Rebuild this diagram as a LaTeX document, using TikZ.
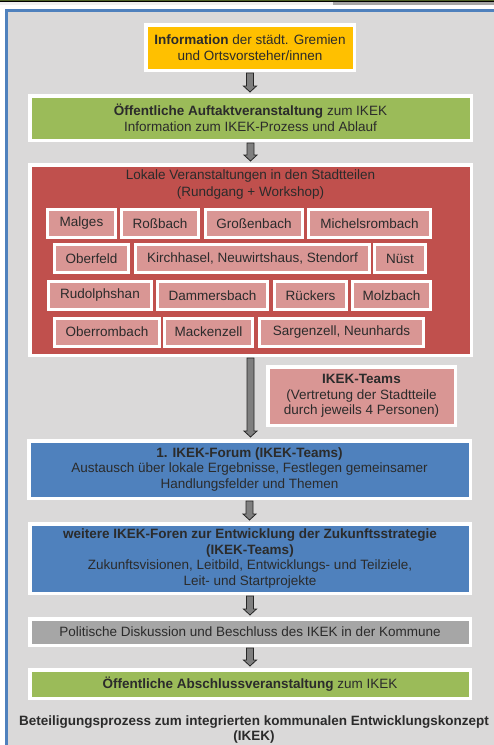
\documentclass[tikz,border=0pt]{standalone}
\usepackage{fontspec}
\setmainfont{Liberation Sans}
\usetikzlibrary{calc,shadows}

\definecolor{panelgrau}{HTML}{DAD9D9}
\definecolor{rahmenblau}{HTML}{4F81BD}
\definecolor{streifen}{HTML}{4F6228}
\definecolor{gelb}{HTML}{FFC000}
\definecolor{gruen}{HTML}{9BBB59}
\definecolor{rot}{HTML}{C0504D}
\definecolor{rosa}{HTML}{D99694}
\definecolor{blau}{HTML}{4F81BD}
\definecolor{grau}{HTML}{A6A6A6}
\definecolor{pfeilgrau}{HTML}{7F7F7F}
\definecolor{schrift}{HTML}{2B2B2B}

\tikzset{
  kasten/.style={draw=white, line width=3.5pt, inner sep=0pt, align=center,
    text=schrift, font=\fontsize{13.5}{15.7}\selectfont,
    drop shadow={shadow xshift=0.8pt, shadow yshift=-1.2pt, fill=black, opacity=0.3}},
  ort/.style={kasten, line width=3pt, fill=rosa, minimum height=28pt},
  pfeil/.style={fill=pfeilgrau, draw=black!85, line width=0.8pt},
  schriftzug/.style={inner sep=0pt, align=center, text=schrift,
    font=\fontsize{13.5}{15.7}\selectfont}
}

% 块状箭头：从 #1 的下边到 #2 的上边
\newcommand{\blockpfeil}[2]{%
  \draw[pfeil] let \p1=(#1.south), \p2=(#2.north) in
    (\x1-3.5pt,\y1-1pt) -- (\x1+3.5pt,\y1-1pt) -- (\x1+3.5pt,\y2+8pt)
    -- (\x1+6.5pt,\y2+8pt) -- (\x1,\y2+2pt) -- (\x1-6.5pt,\y2+8pt)
    -- (\x1-3.5pt,\y2+8pt) -- cycle;}

\begin{document}
\begin{tikzpicture}[x={(1pt,0pt)}, y={(0pt,-1pt)}]

    \useasboundingbox (0,0) rectangle (494,745);

    % 画背景
    \fill[white] (0,0) rectangle (494,745);
    \fill[streifen] (0,0) rectangle (494,1.2);
    \fill[black] (0,1.2) rectangle (494,2);
    \fill[black!6] (0,2) rectangle (333,5);
    \fill[grau] (333,2) rectangle (494,5);
    \draw[rahmenblau, line width=2.5pt, fill=panelgrau] (6.5,10.5) rectangle (510,760);

    % 上面的框
    \node[kasten, fill=gelb, minimum width=208.5pt, minimum height=45.5pt] (info) at (250,47.5)
      {\textbf{Information} der städt. Gremien\\und Ortsvorsteher/innen};
    \node[kasten, fill=gruen, minimum width=441.5pt, minimum height=44.5pt] (auftakt) at (250.5,118)
      {\textbf{Öffentliche Auftaktveranstaltung} zum IKEK\\Information zum IKEK-Prozess und Ablauf};

    % 红色的框
    \node[kasten, fill=rot, minimum width=441.5pt, minimum height=190.5pt] (lokal) at (250.5,260) {};
    \node[schriftzug, font=\fontsize{13.5}{17}\selectfont] (lokaltitel) at (250.5,184.5)
      {Lokale Veranstaltungen in den Stadtteilen\\(Rundgang + Workshop)};

    % 各个城区
    \node[ort, minimum width=68pt] (malges) at (81.5,223.5) {Malges};
    \node[ort, minimum width=77pt] (rossbach) at (160,223.5) {Roßbach};
    \node[ort, minimum width=97pt] (grossenbach) at (254,223.5) {Großenbach};
    \node[ort, minimum width=122pt] (michelsrombach) at (369.5,223.5) {Michelsrombach};
    \node[ort, minimum width=74pt] (oberfeld) at (91.5,258.5) {Oberfeld};
    \node[ort, minimum width=234pt] (kirchhasel) at (252.5,258.5) {Kirchhasel, Neuwirtshaus, Stendorf};
    \node[ort, minimum width=51pt] (nuest) at (400,258.5) {Nüst};
    \node[ort, minimum width=103pt] (rudolphshan) at (100,295.5) {Rudolphshan};
    \node[ort, minimum width=110pt] (dammersbach) at (212.5,295.5) {Dammersbach};
    \node[ort, minimum width=72pt] (rueckers) at (310.5,295.5) {Rückers};
    \node[ort, minimum width=78pt] (molzbach) at (391.5,295.5) {Molzbach};
    \node[ort, minimum width=105pt] (oberrombach) at (107,332) {Oberrombach};
    \node[ort, minimum width=88pt] (mackenzell) at (208.5,332) {Mackenzell};
    \node[ort, minimum width=164pt] (sargenzell) at (341.5,332) {Sargenzell, Neunhards};

    % 下面的框
    \node[kasten, fill=rosa, minimum width=187.5pt, minimum height=58.5pt] (teams) at (361.5,396)
      {\textbf{IKEK-Teams}\\(Vertretung der Stadtteile\\durch jeweils 4 Personen)};
    \node[kasten, fill=blau, minimum width=441.5pt, minimum height=57.5pt] (forum) at (249.5,469.5)
      {\textbf{1. IKEK-Forum (IKEK-Teams)}\\Austausch über lokale Ergebnisse, Festlegen gemeinsamer\\Handlungsfelder und Themen};
    \node[kasten, fill=blau, minimum width=440.5pt, minimum height=69.5pt] (foren) at (250,558.5)
      {\textbf{weitere IKEK-Foren zur Entwicklung der Zukunftsstrategie}\\\textbf{(IKEK-Teams)}\\Zukunftsvisionen, Leitbild, Entwicklungs- und Teilziele,\\Leit- und Startprojekte};
    \node[kasten, fill=grau, minimum width=440.5pt, minimum height=26.5pt] (politik) at (250,632)
      {Politische Diskussion und Beschluss des IKEK in der Kommune};
    \node[kasten, fill=gruen, minimum width=440.5pt, minimum height=28.5pt] (abschluss) at (250,684)
      {\textbf{Öffentliche Abschlussveranstaltung} zum IKEK};

    % 插入文字
    \node[schriftzug, font=\bfseries\fontsize{13.5}{15}\selectfont] (titel) at (254,729.5)
      {Beteiligungsprozess zum integrierten kommunalen Entwicklungskonzept\\(IKEK)};

    % 箭头
    \blockpfeil{info}{auftakt}
    \blockpfeil{auftakt}{lokal}
    \blockpfeil{lokal}{forum}
    \blockpfeil{forum}{foren}
    \blockpfeil{foren}{politik}
    \blockpfeil{politik}{abschluss}

  \end{tikzpicture}
\end{document}
